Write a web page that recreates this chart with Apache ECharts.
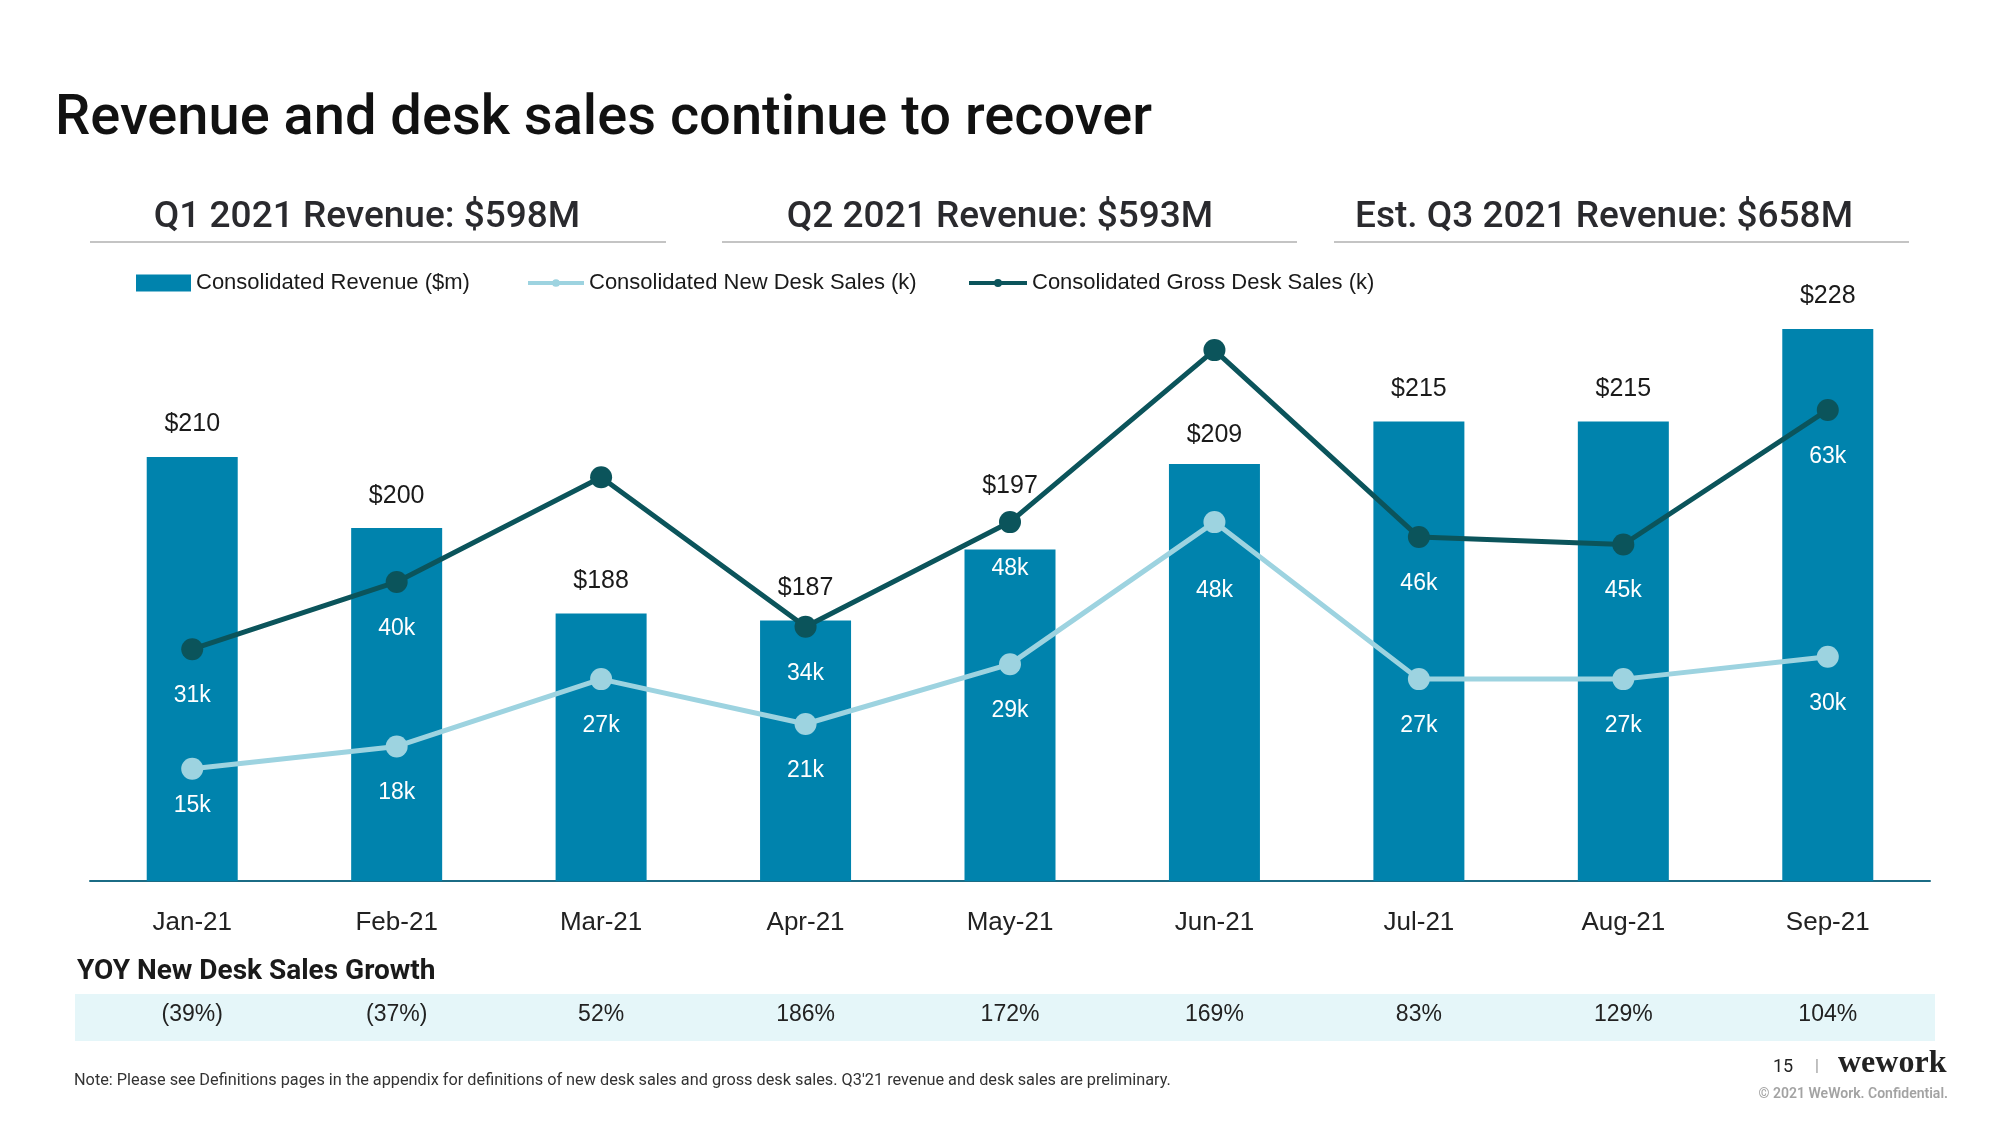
<!DOCTYPE html>
<html>
<head>
<meta charset="utf-8">
<script src="https://cdn.jsdelivr.net/npm/echarts@6/dist/echarts.min.js"></script>
<style>
html,body{margin:0;padding:0;background:#fff;}
#main{width:2000px;height:1125px;}
</style>
</head>
<body>
<div id="main"></div>
<script>
// ---- data ----
var categories = ['Jan-21','Feb-21','Mar-21','Apr-21','May-21','Jun-21','Jul-21','Aug-21','Sep-21'];
var revenue = [210, 200, 188, 187, 197, 209, 215, 215, 228];
var newDeskSales = [15, 18, 27, 21, 29, 48, 27, 27, 30];
var grossDeskSales = [31, 40, 54, 34, 48, 71, 46, 45, 63];
var yoyGrowth = ['(39%)','(37%)','52%','186%','172%','169%','83%','129%','104%'];
var quarterHeaders = ['Q1 2021 Revenue: $598M','Q2 2021 Revenue: $593M','Est. Q3 2021 Revenue: $658M'];

var FONT = "'Liberation Sans', Arial, sans-serif";
var HFONT = "Roboto, 'Liberation Sans', sans-serif";
var BAR = '#0083ad', GROSS = '#0b545b', NEWC = '#9dd3e0';

// label distance tweaks (layout only)
var revDist = [20, 20, 20, 20, 51, 16, 20, 20, 20];
var newDist = [14, 24, 24, 24, 24, 46, 24, 24, 24];

var chart = echarts.init(document.getElementById('main'), null, {renderer: 'canvas'});

var headerX = [367, 1000, 1604];
var lineSeg = [[90, 666], [722, 1297], [1334, 1909]];
var graphics = [
  {type:'text', x:55, y:120, style:{text:'Revenue and desk sales continue to recover', font:'500 56px ' + HFONT, fill:'#111', verticalAlign:'middle'}},
  {type:'text', x:77, y:972, style:{text:'YOY New Desk Sales Growth', font:'700 28px ' + HFONT, fill:'#1a1a1a', verticalAlign:'middle'}},
  {type:'text', x:74, y:1081, style:{text:"Note: Please see Definitions pages in the appendix for definitions of new desk sales and gross desk sales. Q3'21 revenue and desk sales are preliminary.", font:'400 16.3px ' + HFONT, fill:'#333', verticalAlign:'middle'}},
  {type:'text', x:1783, y:1067, style:{text:'15', font:'400 18px ' + HFONT, fill:'#222', align:'center', verticalAlign:'middle'}},
  {type:'text', x:1817, y:1067, style:{text:'|', font:'400 16px ' + HFONT, fill:'#999', align:'center', verticalAlign:'middle'}},
  {type:'text', x:1838, y:1064, style:{text:'wework', font:"700 32px 'Liberation Serif', serif", fill:'#222', align:'left', verticalAlign:'middle'}},
  {type:'text', x:1948, y:1094, style:{text:'\u00a9 2021 WeWork. Confidential.', font:'600 14px ' + HFONT, fill:'#a3a3a3', align:'right', verticalAlign:'middle'}},
  {type:'rect', shape:{x:75, y:994, width:1860, height:47}, style:{fill:'#e5f6f9'}, z:-10}
];
for (var i = 0; i < 3; i++) {
  graphics.push({type:'text', x:headerX[i], y:218, style:{text:quarterHeaders[i], font:'500 37px ' + HFONT, fill:'#2a2a2e', align:'center', verticalAlign:'middle'}});
  graphics.push({type:'line', shape:{x1:lineSeg[i][0], y1:242, x2:lineSeg[i][1], y2:242}, style:{stroke:'#c4c4c4', lineWidth:2}});
}

var legendText = {fontFamily: FONT, fontSize: 22, color: '#1a1a1a'};
function lineIcon() {
  return 'path://M0,3 L58,3 L58,7 L0,7 Z M25,5 A4,4 0 1,1 33,5 A4,4 0 1,1 25,5 Z';
}

var option = {
  animation: false,
  backgroundColor: '#ffffff',
  graphic: graphics,
  legend: [
    {data:[{name:'Consolidated Revenue ($m)', icon:'rect'}], left:136, top:272, padding:0, itemWidth:55, itemHeight:17, textStyle:legendText},
    {data:[{name:'Consolidated New Desk Sales (k)', icon:lineIcon()}], left:528, top:272, padding:0, itemWidth:56, itemHeight:8, textStyle:legendText, itemStyle:{color:NEWC}},
    {data:[{name:'Consolidated Gross Desk Sales (k)', icon:lineIcon()}], left:969, top:272, padding:0, itemWidth:58, itemHeight:8, textStyle:legendText, itemStyle:{color:GROSS}}
  ],
  grid: {left:90, right:70, top:309, bottom:244},
  xAxis: [
    {type:'category', data:categories, position:'bottom',
     axisLine:{show:true, lineStyle:{color:'#1b6c85', width:2}}, axisTick:{show:false},
     axisLabel:{fontFamily:FONT, fontSize:26, color:'#222', margin:29}},
    {type:'category', data:yoyGrowth, position:'bottom', offset:100,
     axisLine:{show:false}, axisTick:{show:false},
     axisLabel:{fontFamily:FONT, fontSize:23, color:'#222', margin:22}}
  ],
  yAxis: [
    {type:'value', min:150.4, max:230.8, show:false, splitLine:{show:false}},
    {type:'value', min:0, max:76.5, show:false, splitLine:{show:false}}
  ],
  series: [
    {name:'Consolidated Revenue ($m)', type:'bar', xAxisIndex:0, yAxisIndex:0, barWidth:91,
     itemStyle:{color:BAR},
     data: revenue.map(function(v, i){ return {value:v, label:{distance:revDist[i]}}; }),
     label:{show:true, position:'top', fontFamily:FONT, fontSize:25, color:'#1a1a1a',
            formatter:function(p){ return '$' + p.value; }},
     z:1},
    {name:'Consolidated New Desk Sales (k)', type:'line', xAxisIndex:0, yAxisIndex:1,
     symbol:'circle', symbolSize:22, lineStyle:{color:NEWC, width:5}, itemStyle:{color:NEWC},
     data: newDeskSales.map(function(v, i){ return {value:v, label:{distance:newDist[i]}}; }),
     label:{show:true, position:'bottom', fontFamily:FONT, fontSize:23, color:'#ffffff',
            formatter:function(p){ return p.value + 'k'; }},
     z:3},
    {name:'Consolidated Gross Desk Sales (k)', type:'line', xAxisIndex:0, yAxisIndex:1,
     symbol:'circle', symbolSize:22, lineStyle:{color:GROSS, width:5}, itemStyle:{color:GROSS},
     data: grossDeskSales,
     label:{show:true, position:'bottom', distance:24, fontFamily:FONT, fontSize:23, color:'#ffffff',
            formatter:function(p){ return p.value + 'k'; }},
     z:4}
  ]
};
chart.setOption(option);
</script>
</body>
</html>
